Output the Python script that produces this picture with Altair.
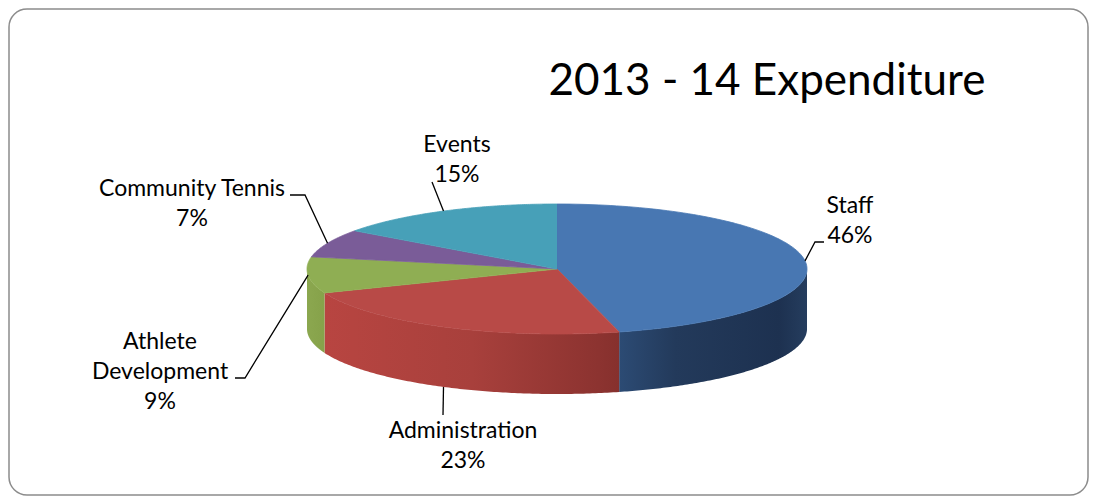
import altair as alt
import pandas as pd

# ---------------- data ----------------
categories = ["Staff", "Administration", "Athlete Development", "Community Tennis", "Events"]
values = [46, 23, 9, 7, 15]
label_lines = [["Staff"], ["Administration"], ["Athlete", "Development"], ["Community Tennis"], ["Events"]]
title_text = "2013 - 14  Expenditure"

# ---------------- styles / layout ----------------
top_colors = ["#4877b2", "#b84a47", "#8fae53", "#7a5c98", "#47a0b8"]
wall_stops = [
    [(0.0, "#2c4b74"), (0.3, "#233a5b"), (0.85, "#1d3150"), (1.0, "#253d5e")],
    [(0.0, "#b84541"), (0.5, "#a8403c"), (0.93, "#8c3330"), (1.0, "#86302d")],
    [(0.0, "#8ba74f"), (1.0, "#86a24a")],
    [(0.0, "#6e5089"), (1.0, "#6e5089")],
    [(0.0, "#3f8fa6"), (1.0, "#3f8fa6")],
]
CX, CY, RX, RY, DEPTH, N = 557, 269, 250, 65, 60, 120
W, H, PAD = 1079, 486, 1
X0, Y0 = 8 + PAD, 8 + PAD

label_pos = {  # center x, first baseline (page px)
    "Staff": (850, 213),
    "Administration": (463, 438),
    "Athlete Development": (160, 349),
    "Community Tennis": (192, 196),
    "Events": (457, 152),
}
line_gap = 30
leader_pts = {  # elbow, end (page px)
    "Staff": (815, 242, 824, 242),
    "Administration": (443, 415, 443, 415),
    "Athlete Development": (245, 378, 235, 378),
    "Community Tennis": (305, 195, 290, 195),
    "Events": (432, 182, 432, 182),
}
FONT = "Lato"

# ---------------- tables ----------------
df = pd.DataFrame({"cat": categories, "value": values, "idx": list(range(len(categories)))})
total = sum(values)
rows = []
for c, v, lines in zip(categories, values, label_lines):
    lx, ly = label_pos[c]
    all_lines = lines + [f"{round(100 * v / total)}%"]
    for j, t in enumerate(all_lines):
        rows.append({"cat": c, "t": t, "lx": lx, "ly": ly + j * line_gap})
labels_df = pd.DataFrame(rows)
leaders_df = pd.DataFrame(
    [{"cat": c, "ex": e[0], "ey": e[1], "hx": e[2], "hy": e[3]} for c, e in leader_pts.items()]
)
title_df = pd.DataFrame({"t": [title_text], "lx": [767], "ly": [95]})

xs = alt.Scale(domain=[X0, X0 + W], zero=False, nice=False)
ys = alt.Scale(domain=[Y0 + H, Y0], zero=False, nice=False)
cscale = alt.Scale(domain=categories, range=top_colors)

base = (
    alt.Chart(df)
    .transform_window(cum="sum(value)", sort=[alt.SortField("idx")], frame=[None, 0])
    .transform_joinaggregate(total="sum(value)")
    .transform_calculate(
        a0="2*PI*(datum.cum - datum.value)/datum.total",
        a1="2*PI*datum.cum/datum.total",
    )
)

# side walls (front half only)
walls = []
for c, stops in zip(categories, wall_stops):
    w = (
        base.transform_filter(alt.datum.cat == c)
        .transform_calculate(lo="max(datum.a0, PI/2)", hi="min(datum.a1, 3*PI/2)")
        .transform_filter("datum.hi > datum.lo")
        .transform_calculate(k=f"sequence(0, {N + 1})")
        .transform_flatten(["k"])
        .transform_calculate(
            th=f"datum.lo + (datum.hi - datum.lo) * datum.k / {N}",
            px=f"{CX} + {RX} * sin(datum.th)",
            py=f"{CY} - {RY} * cos(datum.th)",
            py2=f"{CY} - {RY} * cos(datum.th) + {DEPTH}",
        )
        .mark_area(
            color=alt.Gradient(
                gradient="linear",
                stops=[alt.GradientStop(offset=o, color=col) for o, col in stops],
                x1=0, x2=1, y1=0, y2=0,
            )
        )
        .encode(
            x=alt.X("px:Q", scale=xs, axis=None),
            y=alt.Y("py:Q", scale=ys, axis=None, stack=None),
            y2="py2:Q",
        )
    )
    walls.append(w)

# top face wedges
top = (
    base.transform_calculate(k=f"sequence(0, {N + 2})")
    .transform_flatten(["k"])
    .transform_calculate(
        th=f"datum.k == 0 ? 0 : datum.a0 + (datum.a1 - datum.a0) * (datum.k - 1) / {N}",
        px=f"datum.k == 0 ? {CX} : {CX} + {RX} * sin(datum.th)",
        py=f"datum.k == 0 ? {CY} : {CY} - {RY} * cos(datum.th)",
    )
    .mark_line(strokeWidth=0.8, strokeJoin="round")
    .encode(
        x=alt.X("px:Q", scale=xs, axis=None),
        y=alt.Y("py:Q", scale=ys, axis=None),
        fill=alt.Fill("cat:N", scale=cscale, legend=None),
        stroke=alt.Stroke("cat:N", scale=cscale, legend=None),
        detail="cat:N",
        order="k:Q",
    )
)

# leader lines
leaders = (
    base.transform_lookup(lookup="cat", from_=alt.LookupData(leaders_df, "cat", ["ex", "ey", "hx", "hy"]))
    .transform_calculate(
        mid="(datum.a0 + datum.a1) / 2",
    )
    .transform_calculate(
        sx=f"{CX} + {RX} * sin(datum.mid)",
        sy=f"{CY} - {RY} * cos(datum.mid) + (cos(datum.mid) < -0.5 ? {DEPTH} : 0)",
        k="sequence(0, 3)",
    )
    .transform_flatten(["k"])
    .transform_calculate(
        px="datum.k == 0 ? datum.sx : (datum.k == 1 ? datum.ex : datum.hx)",
        py="datum.k == 0 ? datum.sy : (datum.k == 1 ? datum.ey : datum.hy)",
    )
    .mark_line(color="black", strokeWidth=1.3)
    .encode(
        x=alt.X("px:Q", scale=xs, axis=None),
        y=alt.Y("py:Q", scale=ys, axis=None),
        detail="cat:N",
        order="k:Q",
    )
)

labels = (
    alt.Chart(labels_df)
    .mark_text(font=FONT, fontSize=23, color="black", align="center", baseline="alphabetic")
    .encode(
        x=alt.X("lx:Q", scale=xs, axis=None),
        y=alt.Y("ly:Q", scale=ys, axis=None),
        text="t:N",
    )
)

title = (
    alt.Chart(title_df)
    .mark_text(font=FONT, fontSize=44, color="black", align="center", baseline="alphabetic")
    .encode(
        x=alt.X("lx:Q", scale=xs, axis=None),
        y=alt.Y("ly:Q", scale=ys, axis=None),
        text="t:N",
    )
)

chart = (
    alt.layer(*walls, top, leaders, labels, title)
    .properties(width=W, height=H, padding=PAD, background="white")
    .configure_view(stroke="#8c8c8c", strokeWidth=1.5, cornerRadius=18)
)

chart.save("out.html", embed_options={"renderer": "svg", "actions": False})
